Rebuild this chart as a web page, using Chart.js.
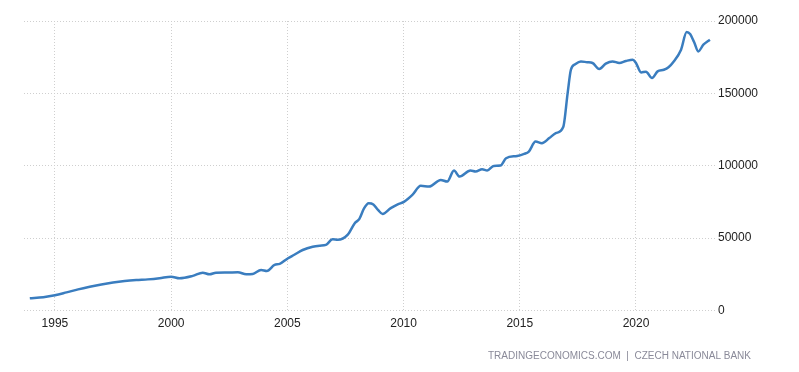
<!DOCTYPE html>
<html>
<head>
<meta charset="utf-8">
<script src="https://cdn.jsdelivr.net/npm/chart.js@4/dist/chart.umd.min.js"></script>
<style>
  html, body { margin: 0; padding: 0; background: #fff; }
  #chart { display: block; }
</style>
</head>
<body>
<canvas id="chart" width="799" height="372"></canvas>
<script>
// decimal years
const years = [
  1993.92, 1994.5, 1995.0, 1995.5, 1996.0, 1996.5, 1997.0, 1997.5, 1998.0, 1998.5,
  1999.0, 1999.5, 2000.0, 2000.36, 2000.93, 2001.36, 2001.65, 2001.93, 2002.4, 2002.87,
  2003.23, 2003.51, 2003.87, 2004.12, 2004.45, 2004.67, 2005.03, 2005.3, 2005.66, 2006.09,
  2006.4, 2006.66, 2006.95, 2007.17, 2007.6, 2007.9, 2008.1, 2008.3, 2008.5, 2008.7,
  2008.9, 2009.1, 2009.45, 2009.75, 2010.03, 2010.38, 2010.74, 2011.1, 2011.6, 2011.88,
  2012.17, 2012.41, 2012.88, 2013.1, 2013.38, 2013.6, 2013.88, 2014.17, 2014.41, 2014.89,
  2015.19, 2015.39, 2015.68, 2015.95, 2016.27, 2016.55, 2016.87, 2017.06, 2017.2, 2017.4,
  2017.63, 2017.9, 2018.13, 2018.42, 2018.7, 2018.99, 2019.28, 2019.57, 2019.86, 2020.0,
  2020.22, 2020.43, 2020.69, 2020.93, 2021.2, 2021.4, 2021.6, 2021.94, 2022.18, 2022.33,
  2022.5, 2022.68, 2022.9, 2023.18
];

const values = [
  8500, 9200, 10500, 12500, 14600, 16400, 18000, 19300, 20300, 21000,
  21500, 22300, 23400, 22300, 23900, 26100, 25000, 26100, 26200, 26400,
  25000, 25250, 28000, 27300, 31500, 32200, 36100, 38500, 41800, 44100,
  44800, 45300, 49200, 48800, 52400, 60300, 63300, 70500, 74100, 73300,
  69500, 66700, 70700, 73300, 75200, 79900, 86100, 85600, 90200, 89100,
  96700, 92500, 96700, 96000, 97600, 96700, 99900, 100100, 105200, 106800,
  108200, 109800, 116700, 115600, 119100, 122500, 126700, 150200, 166300, 170300,
  172100, 171500, 171000, 166800, 170500, 172100, 171000, 172400, 173300, 171000,
  164500, 165000, 160600, 165200, 166300, 168000, 171500, 180200, 192400, 191000,
  185500, 179000, 183600, 187100
];

const xTickLabels = [1995, 2000, 2005, 2010, 2015, 2020];
const yTickLabels = [0, 50000, 100000, 150000, 200000];
const sourceText = 'TRADINGECONOMICS.COM  |  CZECH NATIONAL BANK';

const points = years.map((y, i) => ({ x: y, y: values[i] }));

const sourceNote = {
  id: 'sourceNote',
  afterDraw(chart) {
    const ctx = chart.ctx;
    ctx.save();
    ctx.font = '10px Arial, "Liberation Sans", sans-serif';
    ctx.fillStyle = '#8a8a99';
    ctx.textAlign = 'right';
    ctx.textBaseline = 'middle';
    ctx.fillText(sourceText, 751, 356);
    ctx.restore();
  }
};

const gridColor = '#cfcfcf';
const tickFont = { family: 'Arial, "Liberation Sans", sans-serif', size: 12 };

new Chart(document.getElementById('chart'), {
  type: 'line',
  data: {
    datasets: [{
      data: points,
      borderColor: '#3a7dbf',
      borderWidth: 2.5,
      pointRadius: 0,
      tension: 0.4,
      cubicInterpolationMode: 'monotone',
      fill: false
    }]
  },
  options: {
    responsive: false,
    animation: false,
    layout: { padding: { top: 21, left: 24, right: 0, bottom: 0 } },
    plugins: {
      legend: { display: false },
      tooltip: { enabled: false }
    },
    scales: {
      x: {
        type: 'linear',
        min: 1993.67,
        max: 2023.4,
        afterBuildTicks: (s) => { s.ticks = xTickLabels.map(v => ({ value: v })); },
        afterFit: (s) => { s.height = 61.5; },
        grid: { color: gridColor, drawTicks: false },
        border: { display: false, dash: [1, 2] },
        ticks: {
          color: '#222',
          font: tickFont,
          padding: 6,
          maxRotation: 0,
          autoSkip: false,
          callback: (v) => String(v)
        }
      },
      y: {
        position: 'right',
        min: 0,
        max: 200000,
        afterBuildTicks: (s) => { s.ticks = yTickLabels.map(v => ({ value: v })); },
        afterFit: (s) => { s.width = 84; },
        grid: { color: gridColor, drawTicks: false },
        border: { display: false, dash: [1, 2] },
        ticks: {
          color: '#222',
          font: tickFont,
          padding: 3,
          callback: (v) => String(v)
        }
      }
    }
  },
  plugins: [sourceNote]
});
</script>
</body>
</html>
